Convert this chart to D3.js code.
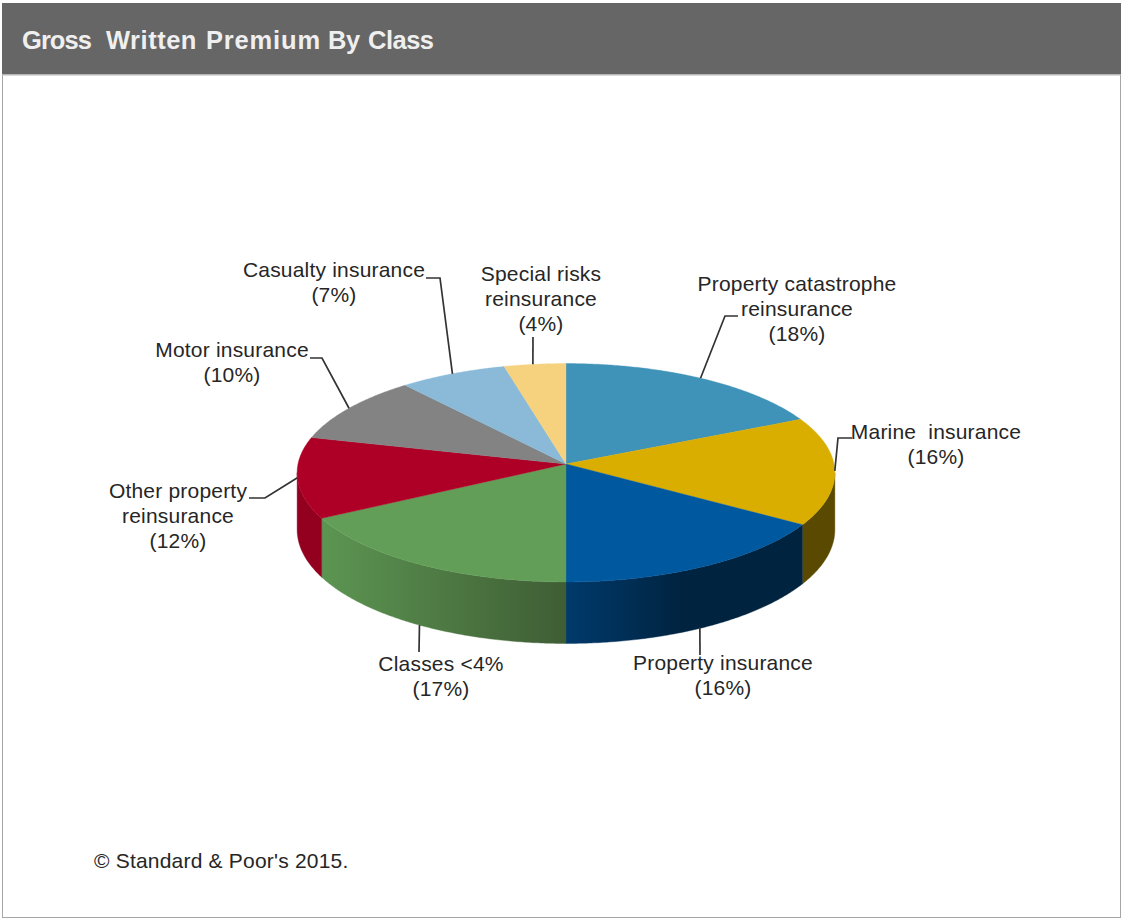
<!DOCTYPE html>
<html>
<head>
<meta charset="utf-8">
<title>Gross Written Premium By Class</title>
<script src="https://cdn.jsdelivr.net/npm/d3@7"></script>
<style>
  html, body { margin: 0; padding: 0; background: #fff; }
  svg { display: block; }
  text { font-family: "Liberation Sans", Arial, sans-serif; white-space: pre; }
</style>
</head>
<body>
<script>
// Portfolio split, clockwise from twelve o'clock
const categories = [
  "Property catastrophe reinsurance", "Marine insurance", "Property insurance", "Classes <4%",
  "Other property reinsurance", "Motor insurance", "Casualty insurance", "Special risks reinsurance"
];
const shares = [18, 16, 16, 17, 12, 10, 7, 4];
const labelLines = [
  ["Property catastrophe", "reinsurance"], ["Marine  insurance"], ["Property insurance"], ["Classes <4%"],
  ["Other property", "reinsurance"], ["Motor insurance"], ["Casualty insurance"], ["Special risks", "reinsurance"]
];
const titleWords = ["Gross", "Written", "Premium", "By", "Class"];
const topColors = ["#3f92b8", "#d9ae00", "#00589f", "#639e58", "#ae0026", "#838383", "#8abad8", "#f6d27e"];
// Wall shades, left to right
const wallColors = [
  ["#2b6780", "#2b6780"], ["#5a4900", "#5a4900"], ["#003a6c", "#00233f"], ["#5c9552", "#3f5d34"],
  ["#93001f", "#93001f"], ["#555", "#555"], ["#5c7c90", "#5c7c90"], ["#a08850", "#a08850"]
];

const width = 1121, height = 918;
const svg = d3.select("body").append("svg").attr("width", width).attr("height", height);

// Panel frame and title bar
svg.append("rect").attr("x", 2.5).attr("y", 3.5).attr("width", 1118).attr("height", 914)
  .attr("fill", "#fff").attr("stroke", "#a6a6a6").attr("stroke-width", 1);
svg.append("rect").attr("x", 2).attr("y", 3).attr("width", 1119).attr("height", 71).attr("fill", "#666");
svg.append("rect").attr("x", 2).attr("y", 74).attr("width", 1119).attr("height", 1.5).attr("fill", "#b5b5b5");

// Each title word is fitted to its own slot; the fitted length includes the trailing space
const titleFit = [[22, 76], [106, 98], [206, 122], [328, 39], [368, 66]];
svg.append("text").attr("y", 49)
  .attr("font-size", 25.5).attr("font-weight", "bold").attr("fill", "#efefef")
  .selectAll("tspan").data(titleWords).join("tspan")
  .attr("x", (d, i) => titleFit[i][0])
  .attr("textLength", (d, i) => titleFit[i][1])
  .text((d, i) => i < titleWords.length - 1 ? d + " " : d);

// Tilted disc seen in perspective: near rim is larger than the far rim
const cx = 566, cy = 464, radiusX = 268, radiusY = 108.5, tilt = 0.0801, depth = 56.6;
const project = (angle, drop = 0) => {
  const v = -Math.cos(angle), w = 1 - tilt * v;
  return [cx + radiusX * Math.sin(angle) / w, cy + (radiusY * v + drop) / w];
};
const line = d3.line();
const arcPoints = (a0, a1, drop = 0) => {
  const n = Math.max(2, Math.ceil((a1 - a0) / (Math.PI / 360)));
  return d3.range(n + 1).map(i => project(a0 + (a1 - a0) * i / n, drop));
};

const slices = d3.pie().sort(null).value(d => d)(shares);
const silhouette = Math.asin(tilt);
const wallFrom = Math.PI / 2 + silhouette, wallTo = 3 * Math.PI / 2 - silhouette;

const defs = svg.append("defs");
const walls = slices
  .map((s, i) => ({ i, a0: Math.max(s.startAngle, wallFrom), a1: Math.min(s.endAngle, wallTo) }))
  .filter(d => d.a1 > d.a0);

walls.forEach(d => {
  const xs = [project(d.a0)[0], project(d.a1)[0]];
  const g = defs.append("linearGradient").attr("id", "wall" + d.i)
    .attr("gradientUnits", "userSpaceOnUse")
    .attr("x1", Math.min(...xs)).attr("x2", Math.max(...xs)).attr("y1", 0).attr("y2", 0);
  const shades = wallColors[d.i];
  g.append("stop").attr("offset", 0).attr("stop-color", shades[0]);
  // The blue wall reaches its darkest tone well before the slice edge
  if (d.i === 2) g.append("stop").attr("offset", 0.5).attr("stop-color", shades[1]);
  g.append("stop").attr("offset", 1).attr("stop-color", shades[1]);
});

svg.append("g").selectAll("path").data(walls).join("path")
  .attr("d", d => line([...arcPoints(d.a0, d.a1), ...arcPoints(d.a0, d.a1, depth).reverse()]) + "Z")
  .attr("fill", d => `url(#wall${d.i})`)
  .attr("stroke", d => `url(#wall${d.i})`).attr("stroke-width", 0.4);

svg.append("g").selectAll("path").data(slices).join("path")
  .attr("d", s => line([[cx, cy], ...arcPoints(s.startAngle, s.endAngle)]) + "Z")
  .attr("fill", (s, i) => topColors[i])
  .attr("stroke", (s, i) => topColors[i]).attr("stroke-width", 0.4);

// Label placement: centre x, first baseline, leader elbow points
const layout = [
  { x: 797, y: 291, elbow: [[738, 316], [725, 316]] },
  { x: 936, y: 439, elbow: [[852, 438], [838, 438]] },
  { x: 723, y: 670, elbow: [[700, 655]], tipDx: -5, onWall: true },
  { x: 441, y: 671, elbow: [[419, 652]], onWall: true },
  { x: 178, y: 498, elbow: [[249, 498], [265, 498]] },
  { x: 232, y: 357, elbow: [[310, 358], [322, 358]] },
  { x: 334, y: 277, elbow: [[426, 278], [440, 278]] },
  { x: 541, y: 281, elbow: [[533, 337]], tipDx: -2 }
];
const lineGap = 25.2;

const leaders = svg.append("g").attr("fill", "none").attr("stroke", "#333").attr("stroke-width", 1.7);
slices.forEach((s, i) => {
  const mid = (s.startAngle + s.endAngle) / 2;
  const spot = layout[i];
  const tip = project(mid, spot.onWall ? depth : 0);
  if (spot.tipDx) tip[0] += spot.tipDx;
  leaders.append("path").attr("d", line([...spot.elbow, tip]));
});

const labels = svg.append("g").attr("font-size", 21).attr("letter-spacing", 0.2)
  .attr("fill", "#262626").attr("text-anchor", "middle");
slices.forEach((s, i) => {
  const rows = [...labelLines[i], `(${shares[i]}%)`];
  rows.forEach((row, r) => {
    labels.append("text").attr("x", layout[i].x).attr("y", layout[i].y + r * lineGap).text(row);
  });
});

svg.append("text").attr("x", 94).attr("y", 868).attr("font-size", 21).attr("letter-spacing", 0.2)
  .attr("fill", "#262626").text("© Standard & Poor's 2015.");
</script>
</body>
</html>
